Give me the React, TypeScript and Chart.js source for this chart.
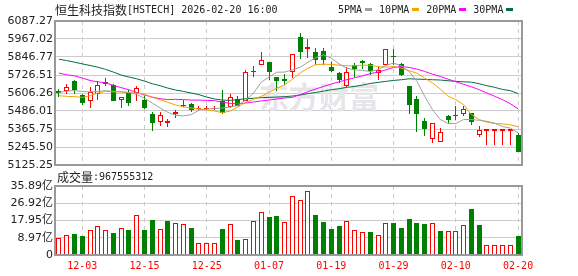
import React, { useEffect, useRef } from 'react';
import { Chart, registerables } from 'chart.js';

Chart.register(...registerables);

// ---------- data ----------
const dates = [
  '11-28', '12-01', '12-02', '12-03', '12-04', '12-05', '12-08', '12-09', '12-10', '12-11',
  '12-12', '12-15', '12-16', '12-17', '12-18', '12-19', '12-22', '12-23', '12-24', '12-25',
  '12-26', '12-29', '12-30', '12-31', '01-02', '01-05', '01-06', '01-07', '01-08', '01-09',
  '01-12', '01-13', '01-14', '01-15', '01-16', '01-19', '01-20', '01-21', '01-22', '01-23',
  '01-26', '01-27', '01-28', '01-29', '01-30', '02-02', '02-03', '02-04', '02-05', '02-06',
  '02-09', '02-10', '02-11', '02-12', '02-13', '02-16', '02-17', '02-18', '02-19', '02-20',
];
const labelDates = ['12-03', '12-15', '12-25', '01-07', '01-19', '01-29', '02-10', '02-20'];

const opens = [
  5622, 5617, 5688, 5595, 5553, 5599, 5679, 5659, 5559, 5613,
  5608, 5562, 5469, 5413, 5404, 5466, 5517, 5533, 5497, 5500,
  5500, 5553, 5513, 5566, 5551, 5755, 5792, 5815, 5713, 5701,
  5746, 5979, 5899, 5879, 5888, 5779, 5739, 5650, 5790, 5817,
  5799, 5739, 5790, 5854, 5799, 5650, 5568, 5422, 5300, 5280,
  5451, 5460, 5464, 5473, 5327, 5355, 5355, 5355, 5355, 5329,
];
const highs = [
  5635, 5666, 5690, 5602, 5644, 5686, 5706, 5666, 5579, 5628,
  5650, 5588, 5482, 5480, 5435, 5495, 5557, 5537, 5522, 5522,
  5522, 5624, 5602, 5584, 5757, 5788, 5879, 5815, 5713, 5735,
  5868, 6005, 5968, 5905, 5905, 5812, 5746, 5783, 5806, 5828,
  5806, 5779, 5899, 5899, 5806, 5650, 5584, 5437, 5406, 5375,
  5462, 5522, 5522, 5473, 5384, 5369, 5369, 5369, 5369, 5340,
];
const lows = [
  5579, 5602, 5602, 5528, 5504, 5557, 5650, 5551, 5504, 5517,
  5551, 5500, 5351, 5384, 5380, 5437, 5513, 5477, 5495, 5491,
  5491, 5469, 5506, 5517, 5551, 5713, 5792, 5695, 5617, 5661,
  5706, 5832, 5839, 5790, 5795, 5746, 5673, 5646, 5713, 5766,
  5728, 5690, 5790, 5795, 5721, 5469, 5344, 5322, 5269, 5280,
  5402, 5429, 5451, 5395, 5311, 5258, 5258, 5258, 5258, 5211,
];
const closes = [
  5604, 5646, 5628, 5537, 5610, 5659, 5666, 5555, 5579, 5537,
  5639, 5504, 5404, 5457, 5422, 5480, 5526, 5495, 5504, 5504,
  5506, 5473, 5579, 5522, 5744, 5746, 5826, 5744, 5684, 5688,
  5868, 5879, 5914, 5830, 5825, 5755, 5690, 5744, 5768, 5806,
  5750, 5757, 5899, 5846, 5726, 5528, 5469, 5369, 5406, 5347,
  5424, 5453, 5502, 5411, 5362, 5369, 5369, 5369, 5369, 5211,
];
const prevClose = 5590;

const ma5 = [
  5610, 5619, 5622, 5617, 5613, 5617, 5622, 5617, 5615, 5610,
  5597, 5571, 5539, 5506, 5477, 5457, 5453, 5462, 5491, 5500,
  5502, 5506, 5513, 5522, 5560, 5605, 5678, 5713, 5745, 5746,
  5761, 5778, 5812, 5842, 5861, 5839, 5801, 5772, 5761, 5757,
  5750, 5762, 5790, 5806, 5788, 5750, 5684, 5584, 5495, 5429,
  5402, 5402, 5429, 5429, 5424, 5417, 5405, 5382, 5372, 5340,
];
const ma10 = [
  5588, 5584, 5582, 5577, 5588, 5606, 5617, 5615, 5613, 5608,
  5606, 5597, 5577, 5562, 5544, 5526, 5513, 5506, 5500, 5493,
  5486, 5475, 5486, 5513, 5544, 5564, 5584, 5610, 5639, 5660,
  5698, 5740, 5772, 5795, 5799, 5797, 5792, 5788, 5788, 5792,
  5792, 5783, 5779, 5783, 5772, 5755, 5739, 5706, 5673, 5633,
  5585, 5562, 5528, 5462, 5429, 5411, 5402, 5400, 5393, 5382,
];
const ma20 = [
  5739, 5728, 5721, 5706, 5690, 5681, 5675, 5657, 5642, 5628,
  5610, 5593, 5579, 5568, 5562, 5564, 5562, 5559, 5559, 5557,
  5555, 5544, 5537, 5535, 5539, 5546, 5553, 5559, 5566, 5573,
  5577, 5595, 5615, 5633, 5650, 5666, 5681, 5695, 5708, 5721,
  5735, 5746, 5761, 5777, 5783, 5777, 5766, 5750, 5732, 5717,
  5699, 5681, 5664, 5648, 5628, 5606, 5584, 5562, 5535, 5500,
];
const ma30 = [
  5832, 5823, 5812, 5801, 5790, 5779, 5764, 5746, 5726, 5713,
  5701, 5686, 5668, 5655, 5639, 5626, 5617, 5606, 5595, 5579,
  5566, 5559, 5557, 5562, 5568, 5571, 5575, 5577, 5579, 5582,
  5586, 5593, 5602, 5610, 5619, 5628, 5635, 5644, 5650, 5659,
  5670, 5677, 5684, 5690, 5695, 5701, 5699, 5697, 5695, 5693,
  5688, 5684, 5681, 5679, 5668, 5655, 5644, 5630, 5622, 5602,
];

// volume in 亿
const volumes = [
  8.7, 10.2, 10.9, 9.9, 12.8, 14.9, 12.8, 11.4, 13.9, 13.0,
  20.6, 13.0, 18.2, 13.3, 17.7, 16.5, 16.1, 14.0, 6.1, 6.1,
  6.1, 13.5, 15.9, 7.8, 8.1, 17.5, 22.2, 19.8, 20.3, 17.0,
  30.7, 28.6, 33.1, 20.8, 17.2, 13.5, 15.1, 17.5, 12.8, 12.0,
  12.0, 10.2, 16.5, 16.6, 14.0, 18.7, 16.6, 16.1, 16.6, 12.5,
  12.3, 12.3, 15.4, 23.9, 15.6, 5.0, 5.0, 5.0, 5.0, 9.68,
];

const priceTicks = [5125.25, 5245.5, 5365.75, 5486.01, 5606.26, 5726.51, 5846.77, 5967.02, 6087.27];
const volumeTicks = [0, 8.97, 17.95, 26.92, 35.89];
const volumeTickLabels = ['0', '8.97亿', '17.95亿', '26.92亿', '35.89亿'];
const maNames = ['5PMA', '10PMA', '20PMA', '30PMA'];
const titleName = '恒生科技指数';
const titleRest = '[HSTECH] 2026-02-20 16:00';
const volumeTitle = '成交量';
const latestVolume = '967555312';

// ---------- styles ----------
const RED = '#ff0000';
const GREEN = '#008000';
const GRID = '#cccccc';
const FRAME = '#999999';
const MA_COLORS = ['#a0a0a0', '#f4a300', '#ff00ff', '#00703c'];
const MONO = '"DejaVu Sans Mono", "Liberation Mono", monospace';
const CJK = '"Noto Sans CJK SC", "Noto Sans", sans-serif';
const TICK_FONT = { family: '"DejaVu Sans", "Noto Sans CJK SC", sans-serif', size: 11 };

const framePlugin = {
  id: 'frame',
  afterDraw(chart: any) {
    const { ctx, chartArea: a } = chart;
    ctx.save();
    ctx.strokeStyle = FRAME;
    ctx.lineWidth = 2;
    ctx.strokeRect(a.left, a.top, a.right - a.left, a.bottom - a.top);
    ctx.restore();
  },
};

// snap bar elements onto whole pixels so hollow bodies stay crisp
const snapPlugin = {
  id: 'snap',
  afterDatasetsUpdate(chart: any) {
    chart.data.datasets.forEach((_ds: any, di: number) => {
      const meta = chart.getDatasetMeta(di);
      if (meta.type !== 'bar') return;
      meta.data.forEach((el: any) => {
        el.x = Math.round(el.x - 0.5) + 0.5;
        el.y = Math.round(el.y);
        el.base = Math.round(el.base);
        if (el.y === el.base) el.y = el.base - 1;
      });
    });
  },
};

const watermarkPlugin = {
  id: 'watermark',
  beforeDatasetsDraw(chart: any) {
    const { ctx, chartArea: a } = chart;
    ctx.save();
    ctx.font = `bold 30px ${CJK}`;
    ctx.fillStyle = '#e6e6ea';
    ctx.textAlign = 'left';
    ctx.textBaseline = 'middle';
    ctx.fillText('东方财富', a.left + 204, a.top + 76);
    ctx.restore();
  },
};

export default function App() {
  const mainRef = useRef<HTMLCanvasElement>(null);
  const volRef = useRef<HTMLCanvasElement>(null);

  useEffect(() => {
    const labelSet = new Set(labelDates);
    const gridX = (ctx: any) => (labelSet.has(dates[ctx.index]) ? GRID : 'rgba(0,0,0,0)');
    const candleUp = closes.map((c, i) => c >= opens[i]);
    const volUp = closes.map((c, i) => c >= (i === 0 ? prevClose : closes[i - 1]));
    const maData = [ma5, ma10, ma20, ma30];

    const xScale = (showTicks: boolean) => ({
      type: 'category',
      offset: true,
      grid: { color: gridX, offset: false, drawTicks: false, lineWidth: 1 },
      border: { display: false, dash: [4, 4] },
      ticks: showTicks
        ? {
            autoSkip: false,
            maxRotation: 0,
            minRotation: 0,
            padding: 5,
            color: RED,
            font: { family: MONO, size: 10 },
            callback: (_v: any, i: number) => (labelSet.has(dates[i]) ? dates[i] : ''),
          }
        : { display: false, autoSkip: false },
      afterFit: (s: any) => {
        s.height = showTicks ? 21 : 0;
      },
    });

    const main = new Chart(mainRef.current as HTMLCanvasElement, {
      type: 'bar',
      data: {
        labels: dates,
        datasets: [
          ...maData.map((d, k) => ({
            type: 'line' as const,
            label: maNames[k],
            data: d,
            borderColor: MA_COLORS[k],
            borderWidth: 1,
            pointRadius: 0,
            tension: 0,
            order: 0,
          })),
          {
            type: 'bar' as const,
            label: 'body',
            data: opens.map((o, i) => [Math.min(o, closes[i]), Math.max(o, closes[i])]),
            backgroundColor: candleUp.map((u) => (u ? '#ffffff' : GREEN)),
            borderColor: candleUp.map((u) => (u ? RED : GREEN)),
            borderWidth: 1,
            borderSkipped: false,
            barThickness: 5,
            minBarLength: 1,
            inflateAmount: 0,
            grouped: false,
            order: 1,
          },
          {
            type: 'bar' as const,
            label: 'wick',
            data: lows.map((l, i) => [l, highs[i]]),
            backgroundColor: candleUp.map((u) => (u ? RED : GREEN)),
            borderWidth: 0,
            barThickness: 1,
            inflateAmount: 0,
            grouped: false,
            order: 2,
          },
        ],
      } as any,
      options: {
        animation: false,
        responsive: false,
        maintainAspectRatio: false,
        layout: { padding: { left: 0, right: 56, top: 21, bottom: 11 } },
        plugins: { legend: { display: false }, tooltip: { enabled: false } },
        scales: {
          x: xScale(false) as any,
          y: {
            min: priceTicks[0],
            max: priceTicks[priceTicks.length - 1],
            afterBuildTicks: (s: any) => {
              s.ticks = priceTicks.map((v) => ({ value: v }));
            },
            afterFit: (s: any) => {
              s.width = 55;
            },
            grid: { color: GRID, drawTicks: false },
            border: { display: false },
            ticks: {
              padding: 2,
              color: '#222',
              font: TICK_FONT,
              callback: (v: any) => Number(v).toFixed(2),
            },
          },
        },
      },
      plugins: [snapPlugin, watermarkPlugin, framePlugin],
    });

    const vol = new Chart(volRef.current as HTMLCanvasElement, {
      type: 'bar',
      data: {
        labels: dates,
        datasets: [
          {
            label: 'volume',
            data: volumes,
            backgroundColor: volUp.map((u) => (u ? '#ffffff' : GREEN)),
            borderColor: volUp.map((u) => (u ? RED : GREEN)),
            borderWidth: 1,
            borderSkipped: false,
            barThickness: 5,
            inflateAmount: 0,
          },
        ],
      } as any,
      options: {
        animation: false,
        responsive: false,
        maintainAspectRatio: false,
        layout: { padding: { left: 0, right: 56, top: 16, bottom: 0 } },
        plugins: { legend: { display: false }, tooltip: { enabled: false } },
        scales: {
          x: xScale(true) as any,
          y: {
            min: 0,
            max: volumeTicks[volumeTicks.length - 1],
            afterBuildTicks: (s: any) => {
              s.ticks = volumeTicks.map((v) => ({ value: v }));
            },
            afterFit: (s: any) => {
              s.width = 55;
            },
            grid: { color: GRID, drawTicks: false },
            border: { display: false },
            ticks: {
              padding: 2,
              color: '#222',
              font: TICK_FONT,
              callback: (_v: any, i: number) => volumeTickLabels[i],
            },
          },
        },
      },
      plugins: [snapPlugin, framePlugin],
    });

    return () => {
      main.destroy();
      vol.destroy();
    };
  }, []);

  const legendItems = maNames.map((n, k) => (
    <span key={n} style={{ display: 'flex', alignItems: 'center' }}>
      <span style={{ fontFamily: MONO, fontSize: 10 }}>{n}</span>
      <span
        style={{
          display: 'inline-block',
          width: 7,
          height: 3,
          background: MA_COLORS[k],
          marginLeft: 3,
          marginRight: 7,
        }}
      />
    </span>
  ));

  return (
    <div
      style={{
        position: 'absolute',
        left: 0,
        top: 0,
        width: 578,
        height: 276,
        background: '#ffffff',
        overflow: 'hidden',
        color: '#222',
      }}
    >
      <canvas
        ref={mainRef}
        width={578}
        height={176}
        style={{ position: 'absolute', left: 0, top: 0, width: 578, height: 176 }}
      />
      <canvas
        ref={volRef}
        width={578}
        height={106}
        style={{ position: 'absolute', left: 0, top: 170, width: 578, height: 106 }}
      />
      <div
        style={{
          position: 'absolute',
          left: 55,
          top: 2,
          height: 14,
          display: 'flex',
          alignItems: 'center',
          whiteSpace: 'nowrap',
        }}
      >
        <span style={{ fontFamily: CJK, fontSize: 12 }}>{titleName}</span>
        <span style={{ fontFamily: MONO, fontSize: 10 }}>{titleRest}</span>
      </div>
      <div
        style={{
          position: 'absolute',
          left: 338,
          top: 2,
          height: 14,
          display: 'flex',
          alignItems: 'center',
          whiteSpace: 'nowrap',
        }}
      >
        {legendItems}
      </div>
      <div
        style={{
          position: 'absolute',
          left: 57,
          top: 169,
          height: 14,
          display: 'flex',
          alignItems: 'center',
          whiteSpace: 'nowrap',
        }}
      >
        <span style={{ fontFamily: CJK, fontSize: 12 }}>{volumeTitle}</span>
        <span style={{ fontFamily: MONO, fontSize: 10 }}>:{latestVolume}</span>
      </div>
    </div>
  );
}
